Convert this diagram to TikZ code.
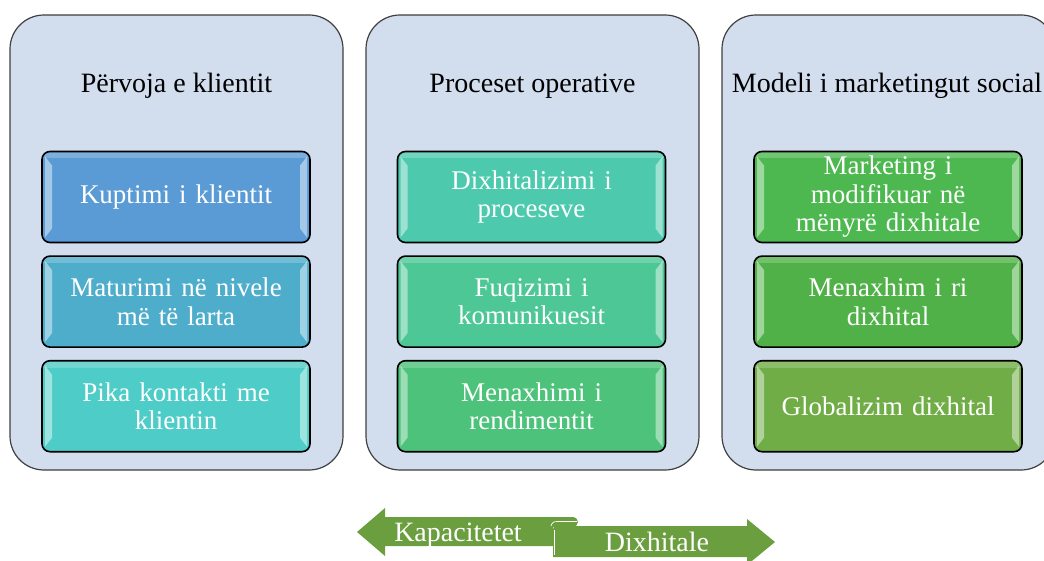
\documentclass[tikz,border=0pt]{standalone}
\usepackage{fontspec}
\setmainfont{Liberation Serif}
\usepackage{xcolor}
\usetikzlibrary{positioning}

\definecolor{panelfill}{HTML}{D2DDEE}
\definecolor{exp_a}{HTML}{5B9BD5}
\definecolor{exp_b}{HTML}{4FADCC}
\definecolor{exp_c}{HTML}{4ECCC7}
\definecolor{proc_a}{HTML}{4DCAAE}
\definecolor{proc_b}{HTML}{4DC796}
\definecolor{proc_c}{HTML}{4DC27A}
\definecolor{mkt_a}{HTML}{4DB84F}
\definecolor{mkt_b}{HTML}{51B149}
\definecolor{mkt_c}{HTML}{70AD47}
\definecolor{ribbongreen}{HTML}{6A9E3E}

\newcommand{\glossstrips}{%
  \fill[white, opacity = 0.45, sharp corners]
    ([xshift = 3pt, yshift = -5pt]path picture bounding box.north west) --
    ([xshift = 10pt, yshift = -14pt]path picture bounding box.north west) --
    ([xshift = 10pt, yshift = 14pt]path picture bounding box.south west) --
    ([xshift = 3pt, yshift = 5pt]path picture bounding box.south west) -- cycle;
  \fill[white, opacity = 0.45, sharp corners]
    ([xshift = -3pt, yshift = -5pt]path picture bounding box.north east) --
    ([xshift = -10pt, yshift = -14pt]path picture bounding box.north east) --
    ([xshift = -10pt, yshift = 14pt]path picture bounding box.south east) --
    ([xshift = -3pt, yshift = 5pt]path picture bounding box.south east) -- cycle;
  \fill[white, opacity = 0.2, sharp corners]
    (path picture bounding box.north west) rectangle
    ([yshift = -7pt]path picture bounding box.north east);
}

\begin{document}
\begin{tikzpicture}
  [
    x = 1pt, y = 1pt,
    node distance = 12pt,
    panel/.style = {draw = black!75, line width = 1.2pt, fill = panelfill,
                    rounded corners = 34pt, minimum width = 333pt,
                    minimum height = 455pt},
    title/.style = {font = \fontsize{28}{30}\selectfont, inner sep = 0pt,
                    anchor = base},
    box/.style = {draw = black, line width = 1.6pt, rounded corners = 8pt,
                  fill = #1, minimum width = 268pt, minimum height = 91pt,
                  text width = 250pt, align = center, text = white,
                  font = \fontsize{27}{28.5}\selectfont, inner sep = 1pt,
                  path picture = {\glossstrips}},
    ribbon/.style = {fill = ribbongreen},
    ribbon_text/.style = {text = white, font = \fontsize{28}{30}\selectfont,
                          inner sep = 0pt, anchor = base},
    curl/.style = {draw = white, line width = 0.7pt},
  ]
  \useasboundingbox (0,0) rectangle (1044,-561);
  \clip (0,0) rectangle (1044,-561);

  \node[panel] (exp_panel) at (176.5,-242.5) {};
  \node[panel] (proc_panel) at (532.5,-242.5) {};
  \node[panel] (mkt_panel) at (888.5,-242.5) {};

  \node[title] (exp_title) at (176.5,-92.7) {Përvoja e klientit};
  \node[title] (proc_title) at (532.5,-92.7) {Proceset operative};
  \node[title] (mkt_title) at (887,-92.7) {Modeli i marketingut social};

  \node[box = exp_a] (exp_1) at (176,-197) {Kuptimi i klientit};
  \node[box = exp_b] [below = of exp_1] (exp_2) {Maturimi në nivele\\më të larta};
  \node[box = exp_c] [below = of exp_2] (exp_3) {Pika kontakti me\\klientin};

  \node[box = proc_a] (proc_1) at (531.5,-197) {Dixhitalizimi i\\proceseve};
  \node[box = proc_b] [below = of proc_1] (proc_2) {Fuqizimi i\\komunikuesit};
  \node[box = proc_c] [below = of proc_2] (proc_3) {Menaxhimi i\\rendimentit};

  \node[box = mkt_a] (mkt_1) at (888,-197) {Marketing i\\modifikuar në\\mënyrë dixhitale};
  \node[box = mkt_b] [below = of mkt_1] (mkt_2) {Menaxhim i ri\\dixhital};
  \node[box = mkt_c] [below = of mkt_2] (mkt_3) {Globalizim dixhital};

  \fill[ribbon] (357,-532) -- (385,-508) -- (385,-517) -- (572,-517)
      .. controls (580,-517) and (580,-527) .. (572,-527) -- (553,-527)
      -- (553,-546) -- (385,-546) -- (385,-556) -- cycle;
  \fill[ribbon] (553,-557) -- (553,-530) .. controls (553,-526) and (556,-526) .. (560,-526)
      -- (747,-526) -- (747,-519) -- (775,-542) -- (747,-565) -- (747,-557) -- cycle;
  \draw[curl] (551,-526) .. controls (552,-522) and (554,-521.5) .. (558,-521.5) -- (577,-521.5);
  \draw[curl] (554,-530) -- (554,-555);

  \node[ribbon_text] (cap_label) at (458,-541.7) {Kapacitetet};
  \node[ribbon_text] (dig_label) at (657,-551.7) {Dixhitale};
\end{tikzpicture}
\end{document}
